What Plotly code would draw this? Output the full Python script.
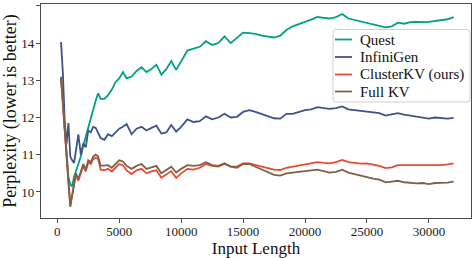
import plotly.graph_objects as go

input_length = [300, 450, 600, 750, 900, 1050, 1200, 1350, 1500,
                1700, 1900, 2100, 2300, 2500, 2700, 2900, 3100, 3300, 3500,
                3800, 4100, 4400, 4700, 5000, 5300, 5600,
                6000, 6400, 6800, 7200, 7600, 8000, 8400, 8800, 9200, 9600,
                10000, 10500, 11000, 11500, 12000, 12500, 13000, 13500, 14000, 14500,
                15000, 15500, 16000, 16500, 17000, 17500, 18000, 18500, 19000, 19500,
                20000, 20500, 21000, 21500, 22000, 22500, 23000, 23500, 24000, 24500,
                25000, 25500, 26000, 26500, 27000, 27500, 28000, 28500, 29000, 29500,
                30000, 30500, 31000, 31500, 32000]

quest = [13.05, 12.5, 11.7, 11.0, 10.4, 10.2, 10.15, 10.4, 10.55,
         10.75, 10.95, 11.25, 11.5, 11.75, 11.95, 12.2, 12.45, 12.65, 12.5,
         12.5, 12.6, 12.75, 12.95, 13.05, 13.22, 13.05,
         13.1, 13.25, 13.35, 13.22, 13.3, 13.42, 13.15, 13.3, 13.52, 13.28,
         13.5, 13.8, 13.85, 13.9, 14.05, 13.95, 14.0, 14.18, 14.0, 14.15,
         14.28, 14.27, 14.25, 14.2, 14.18, 14.15, 14.2, 14.35, 14.45, 14.52,
         14.57, 14.63, 14.7, 14.68, 14.66, 14.7, 14.78, 14.66, 14.62, 14.6,
         14.55, 14.5, 14.47, 14.42, 14.45, 14.55, 14.52, 14.56, 14.57, 14.56,
         14.57, 14.6, 14.62, 14.64, 14.7]

infinigen = [14.03, 13.2, 11.9, 11.3, 11.85, 10.95, 10.85, 10.78, 11.1,
             11.55, 11.0, 11.3, 11.2, 11.65, 11.6, 11.75, 11.72, 11.6, 11.45,
             11.4, 11.55, 11.5, 11.6, 11.7, 11.75, 11.82,
             11.55, 11.7, 11.75, 11.65, 11.72, 11.78, 11.57, 11.6, 11.8, 11.62,
             11.75, 11.95, 11.88, 11.9, 12.03, 11.95, 12.0, 12.1, 12.0, 12.02,
             12.15, 12.2, 12.15, 12.1, 12.05, 11.98, 11.97, 12.1, 12.1, 12.15,
             12.2, 12.22, 12.28, 12.25, 12.23, 12.25, 12.3, 12.22, 12.2, 12.18,
             12.14, 12.14, 12.12, 12.05, 12.08, 12.12, 12.08, 12.05, 12.02, 12.0,
             11.97, 12.0, 11.98, 11.97, 11.99]

clusterkv = [13.05, 12.3, 11.6, 10.95, 10.25, 9.65, 9.9, 10.1, 10.45,
             10.3, 10.5, 10.7, 10.55, 10.8, 10.75, 10.88, 10.92, 10.88, 10.6,
             10.58, 10.62, 10.55, 10.65, 10.75, 10.72, 10.58,
             10.48, 10.58, 10.62, 10.5, 10.55, 10.58, 10.38, 10.48, 10.56, 10.38,
             10.5, 10.62, 10.6, 10.65, 10.75, 10.7, 10.68, 10.75, 10.68, 10.68,
             10.77, 10.77, 10.72, 10.68, 10.64, 10.6, 10.59, 10.65, 10.68, 10.71,
             10.74, 10.76, 10.8, 10.78, 10.77, 10.8, 10.86, 10.8, 10.77, 10.76,
             10.77, 10.74, 10.7, 10.64, 10.66, 10.72, 10.72, 10.7, 10.72, 10.7,
             10.7, 10.71, 10.72, 10.74, 10.77]

full_kv = [13.1, 12.3, 11.65, 11.0, 10.3, 9.6, 9.9, 10.15, 10.5,
           10.35, 10.55, 10.75, 10.6, 10.85, 10.8, 10.95, 11.0, 10.95, 10.7,
           10.7, 10.72, 10.65, 10.75, 10.85, 10.82, 10.7,
           10.62, 10.7, 10.75, 10.62, 10.66, 10.7, 10.5, 10.6, 10.68, 10.52,
           10.62, 10.72, 10.7, 10.72, 10.8, 10.72, 10.7, 10.77, 10.68, 10.65,
           10.75, 10.75, 10.68, 10.6, 10.52, 10.46, 10.44, 10.5, 10.52, 10.54,
           10.56, 10.58, 10.6, 10.56, 10.52, 10.54, 10.6, 10.52, 10.48, 10.44,
           10.38, 10.36, 10.33, 10.26, 10.28, 10.3, 10.26, 10.24, 10.23, 10.24,
           10.21, 10.24, 10.24, 10.25, 10.28]

series_names = ["Quest", "InfiniGen", "ClusterKV (ours)", "Full KV"]
series_values = [quest, infinigen, clusterkv, full_kv]
series_colors = ["#00A087", "#3C5488", "#E64B35", "#7E6148"]

x_ticks = [0, 5000, 10000, 15000, 20000, 25000, 30000]
y_ticks = [10, 11, 12, 13, 14, 15]

FONT = "Liberation Serif"
W, H = 476, 258
ML, MR, MT, MB = 41, 5, 4, 40
PW, PH = W - ML - MR, H - MT - MB


def px_x(px):
    return (px - ML) / PW


def px_y(py):
    return (H - MB - py) / PH


fig = go.Figure()
for name, vals, col in zip(series_names, series_values, series_colors):
    fig.add_trace(go.Scatter(x=input_length, y=vals, mode="lines", name=name,
                             line=dict(color=col, width=1.8), showlegend=False))

axis_common = dict(showline=True, mirror=True, linecolor="#4a4a4a", linewidth=1.2,
                   ticks="outside", ticklen=4, tickcolor="#4a4a4a", tickwidth=1,
                   showgrid=False, zeroline=False, automargin=False,
                   tickfont=dict(family=FONT, size=13, color="#222222"))

fig.update_xaxes(range=[-1315, 33400], tickvals=x_ticks,
                 ticktext=[str(t) for t in x_ticks], ticklabelstandoff=-3,
                 title=dict(text="Input Length", font=dict(family=FONT, size=17, color="#111111"),
                            standoff=2),
                 **axis_common)
fig.update_yaxes(range=[9.30, 15.05], tickvals=y_ticks,
                 ticktext=[str(t) for t in y_ticks], ticklabelstandoff=-1,
                 title=dict(text="Perplexity (lower is better)",
                            font=dict(family=FONT, size=18, color="#111111"), standoff=0),
                 **axis_common)

# legend box (rounded rectangle) drawn in paper coordinates
bx0, bx1, by0, by1, r = 333, 470, 29.5, 102, 3
path = (f"M {px_x(bx0 + r)} {px_y(by0)} L {px_x(bx1 - r)} {px_y(by0)} "
        f"Q {px_x(bx1)} {px_y(by0)} {px_x(bx1)} {px_y(by0 + r)} "
        f"L {px_x(bx1)} {px_y(by1 - r)} Q {px_x(bx1)} {px_y(by1)} {px_x(bx1 - r)} {px_y(by1)} "
        f"L {px_x(bx0 + r)} {px_y(by1)} Q {px_x(bx0)} {px_y(by1)} {px_x(bx0)} {px_y(by1 - r)} "
        f"L {px_x(bx0)} {px_y(by0 + r)} Q {px_x(bx0)} {px_y(by0)} {px_x(bx0 + r)} {px_y(by0)} Z")
fig.add_shape(type="path", path=path, xref="paper", yref="paper",
              line=dict(color="#d0d0d0", width=1), fillcolor="rgba(255,255,255,0.85)",
              layer="above")

row_y = [39.5, 57, 74.5, 91.5]
for name, col, yy in zip(series_names, series_colors, row_y):
    fig.add_shape(type="line", xref="paper", yref="paper",
                  x0=px_x(335), x1=px_x(352), y0=px_y(yy), y1=px_y(yy),
                  line=dict(color=col, width=1.8), layer="above")
    fig.add_annotation(x=px_x(357.5), y=px_y(yy), xref="paper", yref="paper",
                       text=name, showarrow=False, xanchor="left", yanchor="middle",
                       font=dict(family=FONT, size=15, color="#111111"))

fig.update_layout(
    width=W, height=H,
    margin=dict(l=ML, r=MR, t=MT, b=MB),
    plot_bgcolor="white", paper_bgcolor="white",
    font=dict(family=FONT),
    showlegend=False,
)

fig.write_html("out.html", config={"displayModeBar": False},
               post_script="document.body.style.margin='0px';document.body.style.overflow='hidden';")
